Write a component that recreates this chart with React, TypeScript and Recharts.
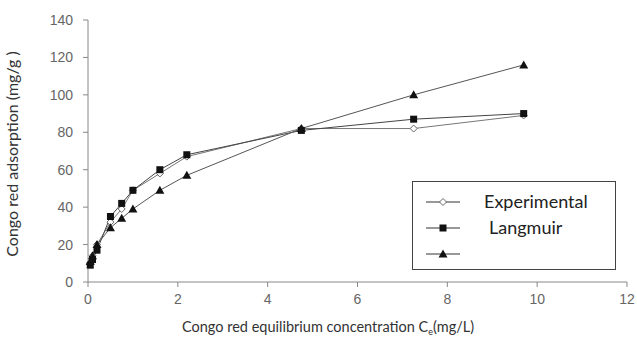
import { LineChart, Line, XAxis, YAxis, Legend, Label } from "recharts"

// equilibrium concentration Ce (mg/L)
const ce = [0.05, 0.1, 0.2, 0.5, 0.75, 1.0, 1.6, 2.2, 4.75, 7.25, 9.7]
// adsorption (mg/g)
const experimental = [10, 14, 20, 32, 39, 49, 58, 67, 82, 82, 89]
const langmuir = [9, 12, 17, 35, 42, 49, 60, 68, 81, 87, 90]
const thirdModel = [11, 14, 20, 29, 34, 39, 49, 57, 82, 100, 116]

const xTicks = [0, 2, 4, 6, 8, 10, 12]
const yTicks = [0, 20, 40, 60, 80, 100, 120, 140]

const legendItems = [
  { key: "exp", label: "Experimental", marker: "diamond", textX: 71 },
  { key: "lang", label: "Langmuir", marker: "square", textX: 76 },
  { key: "fit", label: "", marker: "triangle", textX: 71 },
]

const data = ce.map((x, i) => ({
  ce: x,
  exp: experimental[i],
  lang: langmuir[i],
  fit: thirdModel[i],
}))

const font = "Lato, 'Open Sans', sans-serif"
const tickStyle = { fill: "#666", fontSize: 14, fontFamily: "'Liberation Sans', Arial, sans-serif" }

function Marker({ type, cx, cy }: { type: string; cx: number; cy: number }) {
  if (type === "diamond") {
    const r = 3.5
    return (
      <polygon
        points={`${cx},${cy - r} ${cx + r},${cy} ${cx},${cy + r} ${cx - r},${cy}`}
        fill="#fff"
        stroke="#666"
        strokeWidth={1}
      />
    )
  }
  if (type === "square") {
    return <rect x={cx - 3.5} y={cy - 3.5} width={7} height={7} fill="#111" />
  }
  return <polygon points={`${cx},${cy - 4.5} ${cx + 4.5},${cy + 3.5} ${cx - 4.5},${cy + 3.5}`} fill="#111" />
}

const dotFor = (type: string) => (props: any) =>
  <Marker key={`${type}-${props.index}`} type={type} cx={props.cx} cy={props.cy} />

function LegendBox() {
  return (
    <div style={{ width: 204, height: 89, border: "1px solid #444", boxSizing: "border-box", background: "#fff" }}>
      <svg width={202} height={87}>
        {legendItems.map((item, i) => {
          const y = 20 + i * 26
          return (
            <g key={item.key}>
              <line x1={13} x2={47} y1={y} y2={y} stroke="#333" strokeWidth={1} />
              <Marker type={item.marker} cx={30} cy={y} />
              <text x={item.textX} y={y + 6} fontSize={18} fontFamily={font} fill="#222">
                {item.label}
              </text>
            </g>
          )
        })}
      </svg>
    </div>
  )
}

function XLabel(props: any) {
  const vb = props.viewBox
  return (
    <text x={182} y={vb.y + vb.height - 8} textAnchor="start" fontSize={14.5} fontFamily={font} fill="#333">
      Congo red equilibrium concentration C
      <tspan fontSize={9} dy={3}>e</tspan>
      <tspan dy={-3}>(mg/L)</tspan>
    </text>
  )
}

export default function App() {
  return (
    <div style={{ position: "absolute", left: 0, top: 0, background: "#fff" }}>
      <LineChart width={637} height={340} data={data} margin={{ top: 20, right: 10, left: 0, bottom: 0 }}>
        <XAxis
          dataKey="ce"
          type="number"
          domain={[0, 12]}
          ticks={xTicks}
          height={58}
          tickSize={5}
          tickMargin={7}
          tick={tickStyle}
          stroke="#888"
        >
          <Label content={<XLabel />} />
        </XAxis>
        <YAxis
          type="number"
          domain={[0, 140]}
          ticks={yTicks}
          width={88}
          tickSize={5}
          tickMargin={10}
          tick={tickStyle}
          stroke="#888"
        >
          <Label
            value="Congo red adsorption (mg/g )"
            angle={-90}
            position="insideLeft"
            offset={12}
            dy={3}
            style={{ textAnchor: "middle", fontSize: 16, fontFamily: font, fill: "#333" }}
          />
        </YAxis>
        <Legend
          layout="vertical"
          align="center"
          verticalAlign="middle"
          content={<LegendBox />}
          wrapperStyle={{ position: "absolute", left: 412, top: 181, width: 204, height: 89 }}
        />
        <Line dataKey="exp" name="Experimental" stroke="#777" strokeWidth={1} dot={dotFor("diamond")} isAnimationActive={false} />
        <Line dataKey="lang" name="Langmuir" stroke="#444" strokeWidth={1} dot={dotFor("square")} isAnimationActive={false} />
        <Line dataKey="fit" name="" stroke="#555" strokeWidth={1} dot={dotFor("triangle")} isAnimationActive={false} />
      </LineChart>
    </div>
  )
}
